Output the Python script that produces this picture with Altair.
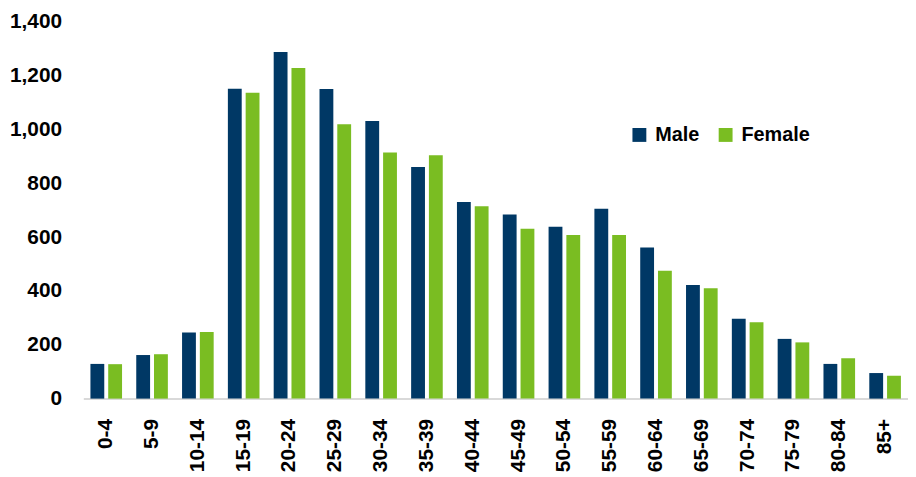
import altair as alt
import pandas as pd

ages = ["0-4", "5-9", "10-14", "15-19", "20-24", "25-29", "30-34", "35-39", "40-44",
        "45-49", "50-54", "55-59", "60-64", "65-69", "70-74", "75-79", "80-84", "85+"]
male = [129, 162, 246, 1152, 1288, 1151, 1032, 861, 731, 684, 639, 706, 562, 422, 297, 222, 129, 95]
female = [128, 165, 248, 1137, 1229, 1020, 915, 905, 715, 631, 608, 608, 475, 410, 284, 209, 150, 85]
sexes = ["Male", "Female"]
colors = ["#003865", "#7ABD22"]

rows = []
for a, m, f in zip(ages, male, female):
    rows.append({"age": a, "sex": "Male", "value": m})
    rows.append({"age": a, "sex": "Female", "value": f})
df = pd.DataFrame(rows)

FONT = "Liberation Sans"

chart = alt.Chart(df).mark_bar().encode(
    x=alt.X("age:N", sort=ages, title=None,
            scale=alt.Scale(paddingInner=0.31, paddingOuter=0.155),
            axis=alt.Axis(labelAngle=-90, labelFontSize=21, labelFontWeight="bold",
                          labelFont=FONT, labelColor="#000000", labelPadding=20,
                          ticks=False, domainColor="#D9D9D9", domainWidth=2)),
    xOffset=alt.XOffset("sex:N", sort=sexes, scale=alt.Scale(paddingInner=0.222, paddingOuter=0)),
    y=alt.Y("value:Q", title=None,
            scale=alt.Scale(domain=[0, 1400], nice=False),
            axis=alt.Axis(values=list(range(0, 1401, 200)), format=",d", grid=False,
                          domain=False, ticks=False, labelFontSize=21, labelFontWeight="bold",
                          labelFont=FONT, labelColor="#000000", labelPadding=22)),
    color=alt.Color("sex:N", sort=sexes, scale=alt.Scale(domain=sexes, range=colors),
                    legend=alt.Legend(title=None, orient="none", legendX=551, legendY=104,
                                      direction="horizontal", symbolType="square",
                                      symbolSize=196, symbolStrokeWidth=0,
                                      labelFontSize=20, labelFontWeight="bold",
                                      labelFont=FONT, labelColor="#000000",
                                      labelOffset=6, columnPadding=16)),
).properties(
    width=832, height=380,
    autosize=alt.AutoSizeParams(type="none"),
    padding={"left": 76, "top": 12, "right": 0, "bottom": 77},
).configure_view(stroke=None)

chart.save("out.html", embed_options={"renderer": "svg", "actions": False})
